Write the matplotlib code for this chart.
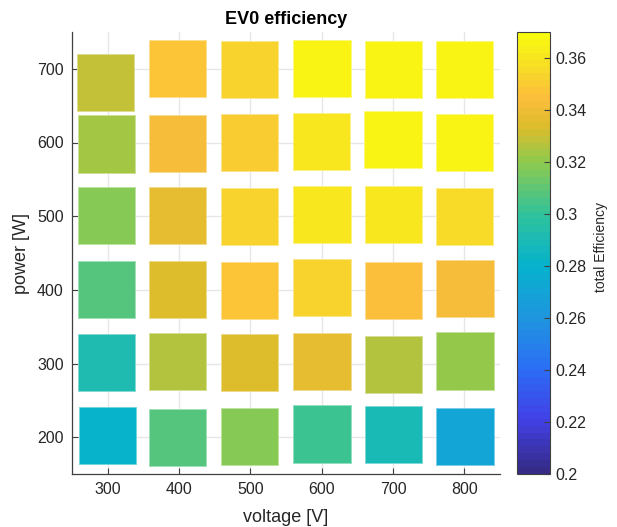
import numpy as np
import matplotlib
matplotlib.use('Agg')
import matplotlib.pyplot as plt
from matplotlib.colors import LinearSegmentedColormap, Normalize

plt.rcParams['font.family'] = ['Liberation Sans', 'DejaVu Sans']

# measured operating points (rows = power level, columns = voltage level)
voltage_rows = [
    [299.6, 398.4, 499.2, 600.4, 700.2, 801.0],
    [298.5, 398.4, 499.2, 600.4, 700.2, 801.0],
    [298.5, 398.4, 499.2, 600.4, 700.2, 801.0],
    [298.5, 398.4, 499.2, 600.4, 700.2, 800.0],
    [298.5, 398.3, 499.0, 600.0, 700.0, 800.0],
    [297.5, 398.3, 499.2, 600.4, 700.2, 800.0],
]
power_rows = [
    [202.3, 200.0, 201.0, 204.3, 203.2, 201.0],
    [301.0, 302.4, 301.0, 302.4, 299.0, 303.4],
    [400.5, 400.8, 399.6, 402.6, 399.6, 401.6],
    [501.0, 501.4, 500.0, 502.3, 502.3, 499.0],
    [598.0, 599.2, 600.3, 601.4, 603.9, 600.3],
    [681.5, 700.7, 699.5, 700.7, 699.5, 698.6],
]
efficiency_rows = [
    [0.280, 0.307, 0.317, 0.302, 0.289, 0.270],
    [0.292, 0.325, 0.333, 0.337, 0.325, 0.320],
    [0.307, 0.333, 0.347, 0.352, 0.345, 0.343],
    [0.317, 0.336, 0.353, 0.360, 0.360, 0.356],
    [0.323, 0.341, 0.351, 0.361, 0.367, 0.365],
    [0.328, 0.348, 0.353, 0.367, 0.367, 0.367],
]

x_ticks = [300, 400, 500, 600, 700, 800]
y_ticks = [200, 300, 400, 500, 600, 700]
cbar_ticks = [0.2, 0.22, 0.24, 0.26, 0.28, 0.3, 0.32, 0.34, 0.36]
cbar_labels = ['0.2', '0.22', '0.24', '0.26', '0.28', '0.3', '0.32', '0.34', '0.36']

# parula-like colormap (64 steps like MATLAB)
vmin, vmax = 0.2, 0.37
stops = [
    (0.20, (0.21, 0.17, 0.53)),
    (0.22, (0.26, 0.25, 0.90)),
    (0.24, (0.17, 0.43, 0.96)),
    (0.26, (0.12, 0.59, 0.87)),
    (0.28, (0.02, 0.70, 0.80)),
    (0.30, (0.19, 0.76, 0.61)),
    (0.32, (0.55, 0.79, 0.31)),
    (0.334, (0.86, 0.74, 0.17)),
    (0.345, (0.99, 0.74, 0.24)),
    (0.355, (0.97, 0.84, 0.17)),
    (0.37, (0.976, 0.984, 0.055)),
]
parula = LinearSegmentedColormap.from_list(
    'parula', [((v - vmin) / (vmax - vmin), c) for v, c in stops], N=64)
norm = Normalize(vmin, vmax)

V = np.array(voltage_rows).ravel()
P = np.array(power_rows).ravel()
E = np.array(efficiency_rows).ravel()

fig = plt.figure(figsize=(6.17, 5.27), dpi=100)
ax = fig.add_axes([72 / 617, 1 - 474 / 527, 428 / 617, 442 / 527])
cax = fig.add_axes([517 / 617, 1 - 474 / 527, 33 / 617, 442 / 527])

face = parula(norm(E))
edge = face.copy()
edge[:, :3] = 0.55 * face[:, :3] + 0.45
sc = ax.scatter(V, P, c=E, cmap=parula, norm=norm, marker='s', s=1690,
                edgecolors=edge, linewidths=0.7, zorder=3)

ax.set_xlim(250, 850)
ax.set_ylim(150, 750)
ax.set_xticks(x_ticks)
ax.set_yticks(y_ticks)
ax.grid(True, color='#e6e6e6', linewidth=1.0, zorder=0)
ax.set_axisbelow(True)
for side in ['top', 'right']:
    ax.spines[side].set_visible(False)
for side in ['left', 'bottom']:
    ax.spines[side].set_color('#404040')
    ax.spines[side].set_linewidth(0.9)
ax.tick_params(direction='in', length=4, width=0.8, color='#404040',
               labelcolor='#262626', labelsize=11.5, pad=6)

cb = fig.colorbar(sc, cax=cax)
cb.set_ticks(cbar_ticks)
cb.set_ticklabels(cbar_labels)
cb.outline.set_edgecolor('#404040')
cb.outline.set_linewidth(0.8)
cax.tick_params(direction='in', length=4, width=0.8, color='#404040',
                labelcolor='#262626', labelsize=11.5, pad=4)

fig.text(286 / 617, 1 - 19 / 527, 'EV0 efficiency', ha='center', va='center',
         fontsize=13, fontweight='bold', color='black')
fig.text(286 / 617, 1 - 517 / 527, 'voltage [V]', ha='center', va='center',
         fontsize=13, color='#262626')
fig.text(22 / 617, 1 - 253 / 527, 'power [W]', ha='center', va='center',
         fontsize=13, color='#262626', rotation=90)
fig.text(601 / 617, 1 - 247 / 527, 'total Efficiency', ha='center', va='center',
         fontsize=10, color='#262626', rotation=90)

plt.savefig('out.png', dpi=100)
